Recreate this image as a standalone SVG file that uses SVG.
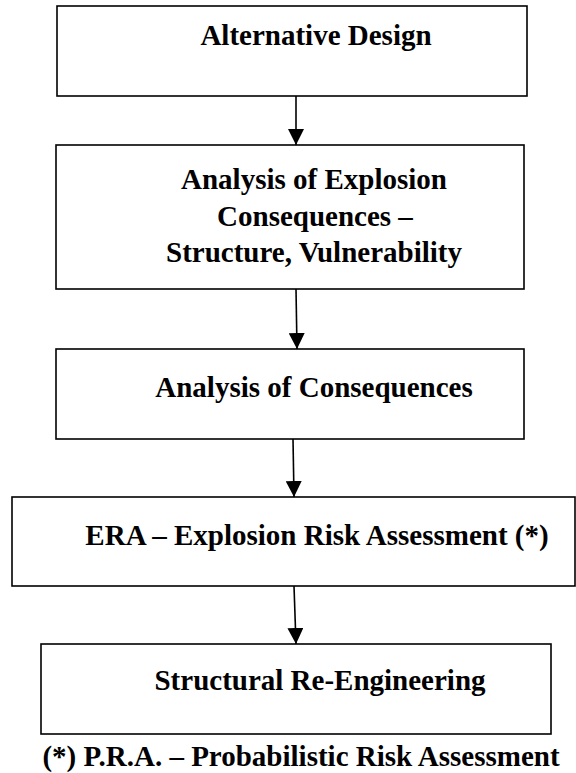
<svg xmlns="http://www.w3.org/2000/svg" width="576" height="773" viewBox="0 0 576 773">
<style>
.box{fill:#fff;stroke:#000;stroke-width:1.6}
.lbl{font-weight:bold;font-size:29px;fill:#000;text-anchor:middle}
.con{stroke:#000;stroke-width:1.6;fill:none}
</style>
<defs>
<marker id="ah" markerUnits="userSpaceOnUse" markerWidth="16" markerHeight="16" viewBox="0 0 15 15" refX="15" refY="7.5" orient="auto">
<path d="M0,0 L15,7.5 L0,15 z" fill="#000"/>
</marker>
</defs>
<rect width="576" height="773" fill="#fff"/>
<g id="connectors">
<line class="con" x1="296" y1="96" x2="296" y2="145" marker-end="url(#ah)"/>
<line class="con" x1="296" y1="289" x2="297" y2="349" marker-end="url(#ah)"/>
<line class="con" x1="293" y1="439" x2="294" y2="497" marker-end="url(#ah)"/>
<line class="con" x1="294" y1="586" x2="296" y2="644" marker-end="url(#ah)"/>
</g>
<g font-family="'Liberation Serif', 'Times New Roman', 'DejaVu Serif', serif">
<g id="node1">
<rect class="box" x="57" y="6" width="470" height="90"/>
<text class="lbl" x="316" y="45">Alternative Design</text>
</g>
<g id="node2">
<rect class="box" x="56" y="145" width="468" height="144"/>
<text class="lbl" x="314" y="189">Analysis of Explosion</text>
<text class="lbl" x="315" y="226">Consequences –</text>
<text class="lbl" x="314" y="262">Structure, Vulnerability</text>
</g>
<g id="node3">
<rect class="box" x="56" y="349" width="468" height="90"/>
<text class="lbl" x="314" y="397">Analysis of Consequences</text>
</g>
<g id="node4">
<rect class="box" x="12" y="497" width="563" height="89"/>
<text class="lbl" x="317" y="545">ERA – Explosion Risk Assessment (*)</text>
</g>
<g id="node5">
<rect class="box" x="41" y="644" width="510" height="90"/>
<text class="lbl" x="320" y="690">Structural Re-Engineering</text>
</g>
<text id="footnote" class="lbl" x="301" y="766">(*) P.R.A. – Probabilistic Risk Assessment</text>
</g>
</svg>
